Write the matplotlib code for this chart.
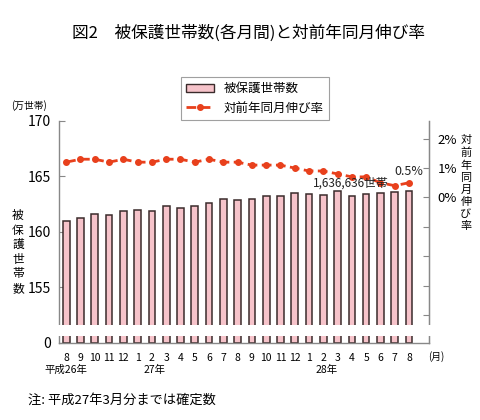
import matplotlib
matplotlib.use("Agg")
import matplotlib.pyplot as plt
from matplotlib.patches import Rectangle, Patch
from matplotlib.lines import Line2D

plt.rcParams['font.family'] = ['Noto Sans CJK JP', 'DejaVu Sans']

months = ['8', '9', '10', '11', '12', '1', '2', '3', '4', '5', '6', '7',
          '8', '9', '10', '11', '12', '1', '2', '3', '4', '5', '6', '7', '8']
households = [161.0, 161.25, 161.6, 161.55, 161.9, 161.95, 161.9, 162.3, 162.15,
              162.3, 162.65, 162.95, 162.9, 162.98, 163.28, 163.25, 163.49, 163.4,
              163.34, 163.66, 163.28, 163.4, 163.55, 163.58, 163.73]
growth = [1.2, 1.3, 1.3, 1.2, 1.3, 1.2, 1.2, 1.3, 1.3, 1.2, 1.3, 1.2, 1.2,
          1.1, 1.1, 1.1, 1.0, 0.9, 0.9, 0.8, 0.7, 0.7, 0.5, 0.4, 0.5]
year_labels = [(0, '平成26年'), (6.2, '27年'), (18.2, '28年')]
left_ticks = [150, 155, 160, 165, 170]
left_labels = ['0', '155', '160', '165', '170']
right_ticks = [-4, -3, -2, -1, 0, 1, 2]
right_labels = ['', '', '', '', '0%', '1%', '2%']

W, H = 480, 420
fig = plt.figure(figsize=(W / 100, H / 100), dpi=100)
fig.patch.set_facecolor('white')

def fx(px):
    return px / W

def fy(py):
    return 1 - py / H

ax = fig.add_axes([fx(59), fy(343), fx(429) - fx(59), fy(121) - fy(343)])
x = list(range(len(months)))
base = 150
ax.bar(x, [v - base for v in households], bottom=base, width=0.47,
       color='#F6C3CA', edgecolor='#3a2b2b', linewidth=1.1, zorder=2)
ax.set_ylim(150, 170)
ax.set_xlim(-0.5, 25.4)
ax.set_yticks(left_ticks)
ax.set_yticklabels(left_labels)
ax.set_xticks(x)
ax.set_xticklabels(months)
ax.tick_params(axis='x', length=0, labelsize=7.5, pad=7)
ax.tick_params(axis='y', direction='in', length=4, labelsize=10, color='#888888', pad=6)
ax.spines['top'].set_visible(False)
for s in ['left', 'bottom', 'right']:
    ax.spines[s].set_color('#888888')
    ax.spines[s].set_linewidth(1.0)

ax2 = ax.twinx()
ax2.plot(x, growth, color='#E8401C', linestyle=(0, (3.5, 1.6)), linewidth=2.0,
         marker='o', markersize=4, zorder=3)
ax2.set_ylim(-4.95, 2.6)
ax2.set_yticks(right_ticks)
ax2.set_yticklabels(right_labels)
ax2.tick_params(axis='y', direction='in', length=4, labelsize=9.5, color='#888888', pad=6)
for s in ['top', 'left', 'bottom']:
    ax2.spines[s].set_visible(False)
ax2.spines['right'].set_color('#888888')

# axis break
ax2.add_patch(Rectangle((-0.03, 0.032), 1.06, 0.048, transform=ax.transAxes,
                        facecolor='white', edgecolor='none', clip_on=False, zorder=10))

# annotations
ax2.text(19.9, 0.5, '1,636,636世帯', ha='center', va='center', fontsize=8.5, zorder=11,
         color='#222222')
ax2.text(24, 0.87, '0.5%', ha='center', va='center', fontsize=9, color='#222222')

# title
fig.text(fx(248), fy(33), '図2　被保護世帯数(各月間)と対前年同月伸び率',
         ha='center', va='center', fontsize=12)

# legend
handles = [Patch(facecolor='#F6C3CA', edgecolor='#3a2b2b', linewidth=1.0),
           Line2D([0], [0], color='#E8401C', linestyle=(0, (3.5, 1.6)), linewidth=2.0,
                  marker='o', markersize=4)]
leg = fig.legend(handles, ['被保護世帯数', '対前年同月伸び率'], loc='upper center',
                 bbox_to_anchor=(fx(255), fy(71)), fontsize=9, frameon=True,
                 fancybox=False, edgecolor='#888888', handlelength=2.2,
                 handleheight=0.6, borderpad=0.4, labelspacing=0.5)
leg.get_frame().set_linewidth(0.8)

# unit & axis labels
fig.text(fx(29), fy(106), '(万世帯)', ha='center', va='center', fontsize=7)
fig.text(fx(18), fy(252), '\n'.join('被保護世帯数'), ha='center', va='center',
         fontsize=8.5, linespacing=1.15)
fig.text(fx(466), fy(183), '\n'.join('対前年同月伸び率'), ha='center', va='center',
         fontsize=8, linespacing=1.25)

# x extras
fig.text(fx(436), fy(357), '(月)', ha='center', va='center', fontsize=7)
for pos, lab in year_labels:
    xf = ax.transData.transform((pos, 150))[0] / fig.dpi / fig.get_figwidth()
    fig.text(xf, fy(370), lab, ha='center', va='center', fontsize=7.5)

fig.text(fx(28), fy(400), '注: 平成27年3月分までは確定数', ha='left', va='center', fontsize=9.5)

fig.savefig('out.png', dpi=100, facecolor='white')
